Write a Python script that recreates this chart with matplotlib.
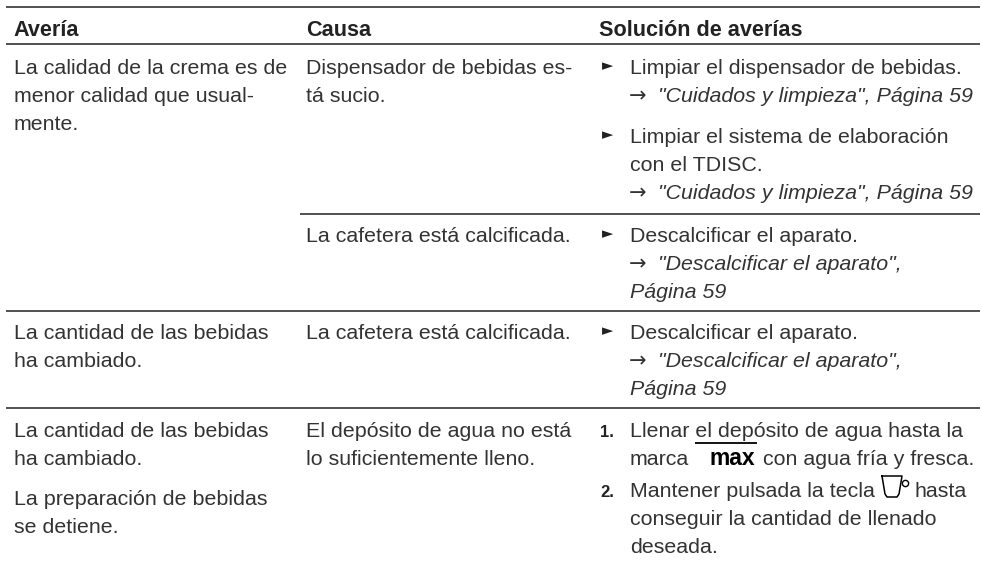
import matplotlib
matplotlib.use("Agg")
import matplotlib.pyplot as plt

FONT = "Liberation Sans"
INK = "#333333"

headers = ["Avería", "Causa", "Solución de averías"]
averia = [
    ["La calidad de la crema es de", "menor calidad que usual-", "mente."],
    ["La cantidad de las bebidas", "ha cambiado."],
    ["La cantidad de las bebidas", "ha cambiado."],
    ["La preparación de bebidas", "se detiene."],
]
causa = [
    ["Dispensador de bebidas es-", "tá sucio."],
    ["La cafetera está calcificada."],
    ["La cafetera está calcificada."],
    ["El depósito de agua no está", "lo suficientemente lleno."],
]
solucion = [
    ("►", ["Limpiar el dispensador de bebidas."], ["\"Cuidados y limpieza\", Página 59"]),
    ("►", ["Limpiar el sistema de elaboración", "con el TDISC."], ["\"Cuidados y limpieza\", Página 59"]),
    ("►", ["Descalcificar el aparato."], ["\"Descalcificar el aparato\",", "Página 59"]),
    ("►", ["Descalcificar el aparato."], ["\"Descalcificar el aparato\",", "Página 59"]),
]
paso1 = ["Llenar el depósito de agua hasta la", "marca", "max", "con agua fría y fresca."]
paso2 = ["Mantener pulsada la tecla", "hasta", "conseguir la cantidad de llenado", "deseada."]

fig = plt.figure(figsize=(9.82, 5.61), dpi=100)
ax = fig.add_axes([0, 0, 1, 1])
ax.set_xlim(0, 982)
ax.set_ylim(561, 0)
ax.axis("off")

FS = 15.4
LH = 28
XA, XC, XH, XS = 14, 306, 599, 630

def put(x, y, s, **kw):
    kw.setdefault("fontsize", FS)
    kw.setdefault("color", INK)
    kw.setdefault("family", FONT)
    ax.text(x, y, s, va="baseline", ha="left", **kw)

def block(x, y, lines, **kw):
    for i, s in enumerate(lines):
        put(x, y + i * LH, s, **kw)

for yy, x0 in [(7, 6), (44, 6), (214, 300), (311, 6), (408, 6)]:
    ax.plot([x0, 980], [yy, yy], color="#222222", lw=1.1, solid_capstyle="butt")

for x, s in zip([XA - 1, XC, XH], headers):
    put(x, 36, s, fontweight="bold", color="#222222", fontsize=15.6)

for lines, y in zip(averia, [74, 339, 437, 505]):
    block(XA, y, lines)
for lines, y in zip(causa, [74, 242, 339, 437]):
    block(XC, y, lines)

for (mark, plain, ital), y in zip(solucion, [74, 143, 242, 339]):
    ax.text(602, y - 3.5, mark, fontsize=10.5, color="#222222", family="DejaVu Sans", va="baseline")
    block(XS, y, plain)
    ya = y + len(plain) * LH
    put(XS - 1, ya, "→", family="DejaVu Sans", fontsize=15)
    put(658, ya, ital[0], style="italic")
    for i, s in enumerate(ital[1:], 1):
        put(XS, ya + i * LH, s, style="italic")

put(600, 437, "1.", fontweight="bold", fontsize=12, color="#222222")
put(XS, 437, paso1[0])
put(XS, 465, paso1[1])
put(710, 465, paso1[2], fontsize=16.5, color="black", fontweight="bold")
put(763, 465, paso1[3])
ax.plot([695, 757], [443, 443], color="black", lw=1.3, solid_capstyle="butt")

put(600, 497, "2.", fontweight="bold", fontsize=12, color="#222222")
put(XS, 497, paso2[0])
ax.plot([882, 885, 887, 897, 899, 902, 882], [476, 494, 497, 497, 494, 476, 476], color="black", lw=1.1)
ax.plot([905.5], [483], "o", ms=4.5, mfc="white", mec="black", mew=1, zorder=3)
put(915, 497, paso2[1])
put(XS, 525, paso2[2])
put(XS, 553, paso2[3])

fig.savefig("out.png", dpi=100)
